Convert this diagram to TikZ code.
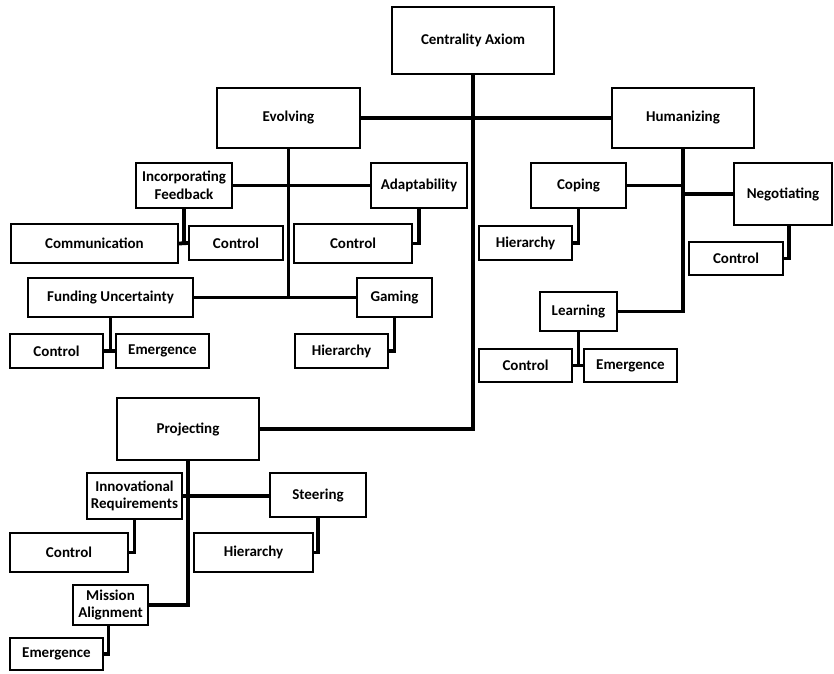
\documentclass[tikz,border=0pt]{standalone}
\usepackage{fontspec}
\setmainfont{Carlito}
\begin{document}
\begin{tikzpicture}[x=1pt,y=-1pt,
  bx/.style={draw=black, line width=2.2pt, fill=white, inner sep=0pt, align=center,
    font=\fontsize{15}{17.5}\selectfont\bfseries},
  cn/.style={line width=3.8pt, line cap=rect}]
\useasboundingbox (0,0) rectangle (834,673);
\fill[white] (0,0) rectangle (834,673);
% boxes
\node[bx, minimum width=162pt, minimum height=67pt] (cent) at (473,40.5) {Centrality Axiom};
\node[bx, minimum width=143pt, minimum height=60pt] (evol) at (288.5,118) {Evolving};
\node[bx, minimum width=142pt, minimum height=60pt] (hum) at (683,118) {Humanizing};
\node[bx, minimum width=96pt, minimum height=45pt] (incf) at (184,185.5) {Incorporating\\Feedback};
\node[bx, minimum width=96pt, minimum height=45pt] (adapt) at (419,185.5) {Adaptability};
\node[bx, minimum width=95pt, minimum height=45pt] (coping) at (578.5,185.5) {Coping};
\node[bx, minimum width=98pt, minimum height=62pt] (negot) at (783,194) {Negotiating};
\node[bx, minimum width=167pt, minimum height=39pt] (comm) at (94.5,243.5) {Communication};
\node[bx, minimum width=94pt, minimum height=34pt] (ctrlA) at (236,243) {Control};
\node[bx, minimum width=118pt, minimum height=39pt] (ctrlB) at (353,243.5) {Control};
\node[bx, minimum width=93pt, minimum height=34pt] (hierA) at (525.5,243) {Hierarchy};
\node[bx, minimum width=94pt, minimum height=33pt] (ctrlC) at (736,258.5) {Control};
\node[bx, minimum width=165pt, minimum height=39pt] (fund) at (110.5,297.5) {Funding Uncertainty};
\node[bx, minimum width=75pt, minimum height=39pt] (gaming) at (394.5,297.5) {Gaming};
\node[bx, minimum width=77pt, minimum height=39pt] (learn) at (578.5,311.5) {Learning};
\node[bx, minimum width=93pt, minimum height=34pt] (ctrlD) at (56.5,351) {Control};
\node[bx, minimum width=93pt, minimum height=34pt] (emA) at (162.5,351) {Emergence};
\node[bx, minimum width=93pt, minimum height=34pt] (hierB) at (341.5,351) {Hierarchy};
\node[bx, minimum width=93pt, minimum height=33pt] (ctrlE) at (525.5,365.5) {Control};
\node[bx, minimum width=93pt, minimum height=33pt] (emB) at (630.5,365.5) {Emergence};
\node[bx, minimum width=142pt, minimum height=62pt] (proj) at (188,429) {Projecting};
\node[bx, minimum width=95pt, minimum height=46pt] (innov) at (134.5,496) {Innovational\\Requirements};
\node[bx, minimum width=96pt, minimum height=44pt] (steer) at (318,495) {Steering};
\node[bx, minimum width=118pt, minimum height=39pt] (ctrlF) at (69,552.5) {Control};
\node[bx, minimum width=119pt, minimum height=39pt] (hierC) at (253.5,552.5) {Hierarchy};
\node[bx, minimum width=75pt, minimum height=40pt] (miss) at (110.5,605) {Mission\\Alignment};
\node[bx, minimum width=93pt, minimum height=32pt] (emC) at (56.5,654) {Emergence};
% connectors
\draw[cn] (cent.south) |- (proj.east);
\draw[cn] (evol.east) -- (hum.west);
\draw[cn] (evol.south) -- (evol.south |- fund.east);
\draw[cn] (fund.east) -- (gaming.west);
\draw[cn] (incf.east) -- (adapt.west);
\coordinate (j1) at (incf.south |- comm.east);
\draw[cn] (incf.south) -- (j1);
\draw[cn] (comm.east) -- (ctrlA.west);
\draw[cn] (adapt.south) |- (ctrlB.east);
\draw[cn] (hum.south) |- (learn.east);
\draw[cn] (coping.east) -- (coping.east -| hum.south);
\draw[cn] (negot.west) -- (negot.west -| hum.south);
\draw[cn] (coping.south) |- (hierA.east);
\coordinate (n1) at ([xshift=6pt]negot.south);
\draw[cn] (n1) |- (ctrlC.east);
\coordinate (j2) at (learn.south |- ctrlE.east);
\draw[cn] (learn.south) -- (j2);
\draw[cn] (ctrlE.east) -- (emB.west);
\coordinate (j3) at (fund.south |- ctrlD.east);
\draw[cn] (fund.south) -- (j3);
\draw[cn] (ctrlD.east) -- (emA.west);
\draw[cn] (gaming.south) |- (hierB.east);
\draw[cn] (proj.south) |- (miss.east);
\draw[cn] (innov.east) -- (innov.east -| steer.west);
\draw[cn] (innov.south) |- (ctrlF.east);
\draw[cn] (steer.south) |- (hierC.east);
\coordinate (m1) at ([xshift=-2pt]miss.south);
\draw[cn] (m1) |- (emC.east);
\end{tikzpicture}
\end{document}
